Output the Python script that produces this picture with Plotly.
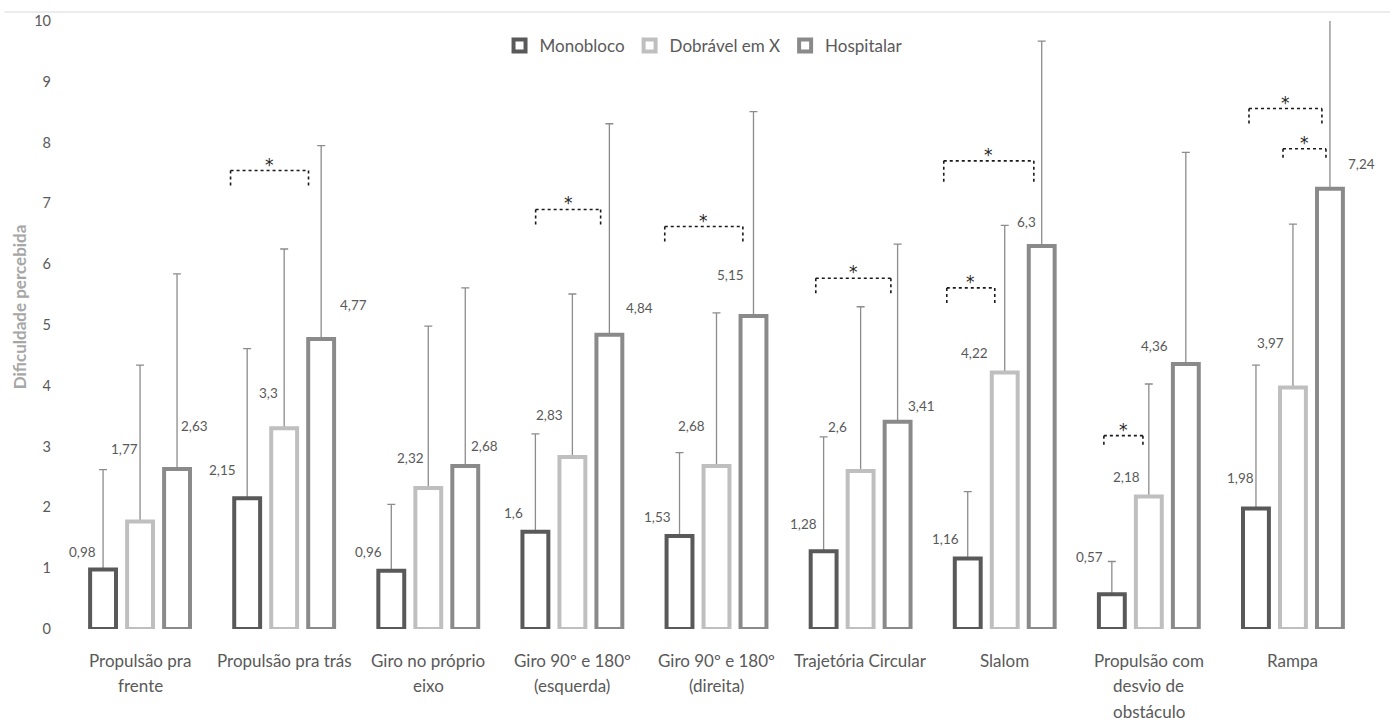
import plotly.graph_objects as go

categories = ["Propulsão pra frente", "Propulsão pra trás", "Giro no próprio eixo",
              "Giro 90º e 180º (esquerda)", "Giro 90º e 180º (direita)", "Trajetória Circular",
              "Slalom", "Propulsão com desvio de obstáculo", "Rampa"]
tick_labels = [["Propulsão pra", "frente"], ["Propulsão pra trás"], ["Giro no próprio", "eixo"],
               ["Giro 90º e 180º", "(esquerda)"], ["Giro 90º e 180º", "(direita)"],
               ["Trajetória Circular"], ["Slalom"], ["Propulsão com", "desvio de", "obstáculo"],
               ["Rampa"]]
series_names = ["Monobloco", "Dobrável em X", "Hospitalar"]
monobloco = [0.98, 2.15, 0.96, 1.60, 1.53, 1.28, 1.16, 0.57, 1.98]
dobravel = [1.77, 3.30, 2.32, 2.83, 2.68, 2.60, 4.22, 2.18, 3.97]
hospitalar = [2.63, 4.77, 2.68, 4.84, 5.15, 3.41, 6.30, 4.36, 7.24]
monobloco_sd = [1.64, 2.46, 1.09, 1.61, 1.37, 1.88, 1.10, 0.54, 2.36]
dobravel_sd = [2.57, 2.95, 2.66, 2.68, 2.52, 2.70, 2.42, 1.85, 2.69]
hospitalar_sd = [3.21, 3.18, 2.93, 3.47, 3.36, 2.92, 3.37, 3.48, 3.00]
y_ticks = [0, 1, 2, 3, 4, 5, 6, 7, 8, 9, 10]

# significance brackets: (category index, left offset, right offset, top y, leg y)
brackets = [
    (1, -0.372, 0.169, 7.54, 7.28),
    (3, -0.255, 0.196, 6.90, 6.62),
    (4, -0.359, 0.183, 6.62, 6.34),
    (5, -0.311, 0.210, 5.77, 5.51),
    (6, -0.423, 0.202, 7.70, 7.33),
    (6, -0.402, -0.069, 5.61, 5.33),
    (7, -0.312, -0.041, 3.18, 3.00),
    (8, -0.305, 0.201, 8.56, 8.30),
    (8, -0.069, 0.229, 7.90, 7.72),
]

# value-label placement (pixel shifts from the category centre / bar top)
label_shift = [
    [(-57.5, 17), (-61.6, 28), (-59.6, 19), (-58.7, 19), (-58.7, 19), (-56.8, 27), (-58.9, 19), (-58.9, 37), (-52, 31)],
    [(-15.5, 72), (-15.6, 35), (-17.6, 30), (-22.7, 42), (-24.7, 40), (-22.8, 44), (-29.9, 19), (-21.9, 19), (-22, 45)],
    [(54.5, 43), (69.4, 34), (56.4, 20), (67.3, 27), (14.3, 41), (61, 16), (22.1, 24), (6.1, 18), (69, 25)],
]

colors = ["#595959", "#bfbfbf", "#8a8a8a"]
FONT = "Lato, 'Liberation Sans', sans-serif"
TXT = "#595959"

values = [monobloco, dobravel, hospitalar]
sds = [monobloco_sd, dobravel_sd, hospitalar_sd]

fig = go.Figure()
for s, (name, vals, sd, col) in enumerate(zip(series_names, values, sds, colors)):
    # error-bar carrier, drawn beneath the outlined bar
    fig.add_trace(go.Bar(
        name=name, x=categories, y=vals, offsetgroup=str(s), showlegend=False,
        marker=dict(color="rgba(0,0,0,0)", line=dict(width=0)),
        error_y=dict(type="data", array=sd, symmetric=False, arrayminus=[0] * len(sd),
                     color="#8c8c8c", thickness=1.3, width=4),
        hoverinfo="skip",
    ))
    fig.add_trace(go.Bar(
        name=name, x=categories, y=vals, offsetgroup=str(s),
        marker=dict(color="white", line=dict(color=col, width=4)),
        hoverinfo="skip",
    ))

annotations = []
for s, vals in enumerate(values):
    for i, v in enumerate(vals):
        dx, dy = label_shift[s][i]
        annotations.append(dict(
            x=categories[i], y=v, xref="x", yref="y", text=f"{v:g}".replace(".", ","),
            showarrow=False, xshift=dx, yshift=dy, xanchor="center", yanchor="middle",
            font=dict(family=FONT, size=13.5, color=TXT)))

for i, lines in enumerate(tick_labels):
    for k, line in enumerate(lines):
        annotations.append(dict(
            x=i, y=0, xref="x", yref="paper", text=line, showarrow=False,
            yshift=-(31 + 25.5 * k), xanchor="center", yanchor="middle",
            font=dict(family=FONT, size=17, color=TXT)))

shapes = []
for ci, l, r, top, leg in brackets:
    line = dict(color="#1a1a1a", width=1.6, dash="dot")
    shapes.append(dict(type="line", xref="x", yref="y", x0=ci + l, x1=ci + r, y0=top, y1=top, line=line))
    shapes.append(dict(type="line", xref="x", yref="y", x0=ci + l, x1=ci + l, y0=top, y1=leg, line=line))
    shapes.append(dict(type="line", xref="x", yref="y", x0=ci + r, x1=ci + r, y0=top, y1=leg, line=line))
    annotations.append(dict(x=ci + (l + r) / 2, y=top, xref="x", yref="y", text="*",
                            showarrow=False, xanchor="center", yanchor="bottom", yshift=-6,
                            font=dict(family="DejaVu Sans", size=17, color="#262626")))

shapes.append(dict(type="line", xref="paper", yref="paper", x0=-0.049, x1=1.02, y0=1.0148, y1=1.0148,
                   line=dict(color="#d9d9d9", width=1)))

annotations.append(dict(x=-0.0374, y=5.3, xref="paper", yref="y", text="<b>Dificuldade percebida</b>",
                        textangle=-90, showarrow=False, xanchor="center", yanchor="middle",
                        font=dict(family=FONT, size=17, color="#a6a6a6")))

fig.update_layout(
    width=1390, height=724, autosize=False,
    margin=dict(l=68, r=25, t=19, b=95),
    plot_bgcolor="white", paper_bgcolor="white",
    barmode="group", bargap=0.23, bargroupgap=0.3,
    showlegend=True,
    legend=dict(orientation="h", x=0.49, xanchor="center", y=0.959, yanchor="middle",
                itemwidth=30, font=dict(family=FONT, size=17, color=TXT), bgcolor="rgba(0,0,0,0)"),
    xaxis=dict(type="category", range=[-0.5, 8.5], showticklabels=False, showgrid=False,
               showline=False, zeroline=False, ticks=""),
    yaxis=dict(range=[0, 10], tickvals=y_ticks, showgrid=False, showline=False, zeroline=False,
               ticks="", ticklabelstandoff=16, tickfont=dict(family=FONT, size=14.5, color=TXT)),
    annotations=annotations, shapes=shapes,
    hovermode=False,
)

fig.write_html("out.html", config={"displayModeBar": False},
               post_script="document.body.style.margin='0';document.body.style.overflow='hidden';")
